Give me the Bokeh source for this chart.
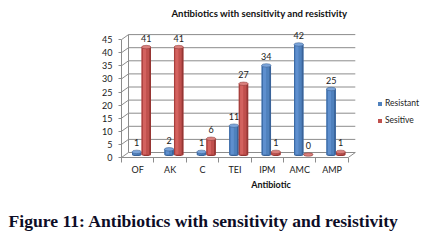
from bokeh.plotting import figure
from bokeh.models import Range1d, FixedTicker, ColumnDataSource, Legend, LegendItem, Title
from bokeh.core.properties import value
from bokeh.embed import file_html
from bokeh.resources import INLINE

# ---- data ----
antibiotics = ["OF", "AK", "C", "TEI", "IPM", "AMC", "AMP"]
resistant = [1, 2, 1, 11, 34, 42, 25]
sesitive = [41, 41, 6, 27, 1, 0, 1]
y_ticks = [0, 5, 10, 15, 20, 25, 30, 35, 40, 45]
series_names = ["Resistant", "Sesitive"]
chart_title = "Antibiotics with sensitivity and resistivity"
x_title = "Antibiotic"
caption = "Figure 11: Antibiotics with sensitivity and resistivity"

# ---- geometry ----
WIDTH, HEIGHT = 424, 247
FRAME_L, FRAME_R, FRAME_T, FRAME_B = 121, 420, 2, 157
PX_X = 32.4   # pixels per category
PX_Y = 2.62   # pixels per unit
DEPTH_X = 7 / PX_X
DEPTH_Y = 5 / PX_Y
BASE = 3 / PX_Y
BAR_W = 0.29
OFFSETS = [-0.03, 0.265]
n = len(antibiotics)

p = figure(width=WIDTH, height=HEIGHT,
           x_range=Range1d(0, (FRAME_R - FRAME_L) / PX_X),
           y_range=Range1d(0, (FRAME_B - FRAME_T) / PX_Y),
           min_border_left=FRAME_L, min_border_right=WIDTH - FRAME_R,
           min_border_top=FRAME_T, min_border_bottom=HEIGHT - FRAME_B,
           output_backend="svg", toolbar_location=None)
p.outline_line_color = None
p.xgrid.visible = False
p.ygrid.visible = False
p.background_fill_color = "white"
p.border_fill_color = "white"

GRID = "#8c8c8c"
FONT = "Lato"

# ---- 3D walls / gridlines ----
x_back0 = DEPTH_X
x_back1 = n + DEPTH_X
p.segment(x0=[x_back0] * len(y_ticks), y0=[t + DEPTH_Y for t in y_ticks],
          x1=[x_back1] * len(y_ticks), y1=[t + DEPTH_Y for t in y_ticks],
          line_color=GRID, line_width=1)
p.segment(x0=[0] * len(y_ticks), y0=y_ticks,
          x1=[x_back0] * len(y_ticks), y1=[t + DEPTH_Y for t in y_ticks],
          line_color=GRID, line_width=1)
p.segment(x0=[x_back0], y0=[y_ticks[0] + DEPTH_Y], x1=[x_back0], y1=[y_ticks[-1] + DEPTH_Y],
          line_color=GRID, line_width=1)
p.segment(x0=[n], y0=[0], x1=[x_back1], y1=[DEPTH_Y], line_color=GRID, line_width=1)

# ---- bars ----
palettes = [
    dict(base="#4F81BD", stripes=["#3B6AA6", "#5E8FCE", "#4F81BD", "#3A6399"],
         cap="#7CA5DA", edge="#2F5586"),
    dict(base="#C0504D", stripes=["#A83F3C", "#D3625F", "#C0504D", "#953634"],
         cap="#DA807D", edge="#86302E"),
]
fracs = [0.0, 0.14, 0.5, 0.82, 1.0]
legend_items = []
for s, vals in enumerate([resistant, sesitive]):
    pal = palettes[s]
    xc = [i + 0.5 + OFFSETS[s] for i in range(n)]
    tops = [v + BASE for v in vals]
    src = ColumnDataSource(dict(x=xc, top=tops, bottom=[BASE] * n, v=[str(v) for v in vals],
                                ly=[t + 3.4 for t in tops]))
    # bottom rounding
    p.ellipse(x="x", y="bottom", width=BAR_W, height=3, height_units="screen",
              source=src, fill_color=pal["stripes"][3], line_color=None)
    base_r = p.vbar(x="x", top="top", bottom="bottom", width=BAR_W, source=src,
                    fill_color=pal["base"], line_color=None)
    legend_items.append(LegendItem(label=series_names[s], renderers=[base_r]))
    for k in range(4):
        f0, f1 = fracs[k], fracs[k + 1]
        sx = [x - BAR_W / 2 + BAR_W * (f0 + f1) / 2 for x in xc]
        p.vbar(x=sx, top=tops, bottom=[BASE] * n, width=BAR_W * (f1 - f0),
               fill_color=pal["stripes"][k], line_color=None)
    p.ellipse(x="x", y="top", width=BAR_W, height=3.5, height_units="screen",
              source=src, fill_color=pal["cap"], line_color=pal["edge"], line_width=0.5)
    p.text(x="x", y="ly", text="v", source=src, text_align="center", text_baseline="middle",
           text_font=value(FONT), text_font_size="9px", text_color="#1a1a1a")

# ---- title inside frame ----
p.text(x=[(259 - FRAME_L) / PX_X], y=[(FRAME_B - 13) / PX_Y], text=[chart_title],
       text_align="center", text_baseline="middle", text_font=value(FONT),
       text_font_size="9.6px", text_font_style="bold", text_color="#111111")

# ---- axes ----
yax = p.yaxis[0]
yax.ticker = FixedTicker(ticks=y_ticks, minor_ticks=[])
yax.bounds = (y_ticks[0], y_ticks[-1])
yax.axis_line_color = GRID
yax.major_tick_line_color = GRID
yax.major_tick_out = 3
yax.major_tick_in = 0
yax.minor_tick_line_color = None
yax.major_label_standoff = 6
yax.major_label_text_font = FONT
yax.major_label_text_font_size = "9px"
yax.major_label_text_color = "#1a1a1a"

xax = p.xaxis[0]
xax.ticker = FixedTicker(ticks=[i + 0.5 for i in range(n)], minor_ticks=list(range(n + 1)))
xax.major_label_overrides = {i + 0.5: a for i, a in enumerate(antibiotics)}
xax.bounds = (0, n)
xax.axis_line_color = GRID
xax.major_tick_line_color = None
xax.major_tick_out = 0
xax.major_tick_in = 0
xax.minor_tick_line_color = GRID
xax.minor_tick_out = 5
xax.minor_tick_in = 0
xax.major_label_standoff = 1
xax.major_label_text_font = FONT
xax.major_label_text_font_size = "9px"
xax.major_label_text_color = "#1a1a1a"
xax.axis_label = x_title
xax.axis_label_text_font = FONT
xax.axis_label_text_font_size = "9px"
xax.axis_label_text_font_style = "bold"
xax.axis_label_text_color = "#111111"
xax.axis_label_standoff = 1

# ---- legend ----
legend = Legend(items=legend_items, location=(256, 32), orientation="vertical",
                glyph_width=5, glyph_height=5, label_height=10, spacing=7,
                padding=0, margin=0, border_line_color=None, background_fill_alpha=0,
                label_standoff=3, label_text_font=FONT, label_text_font_size="8.5px",
                label_text_color="#1a1a1a")
p.add_layout(legend, "center")

# ---- caption ----
cap = Title(text=caption, align="left", offset=8 - FRAME_L, standoff=32,
            text_font="Liberation Serif",
            text_font_size="17.6px", text_font_style="bold", text_color="#0d0d26")
p.add_layout(cap, "below")

open("out.html", "w").write(file_html(p, INLINE))
